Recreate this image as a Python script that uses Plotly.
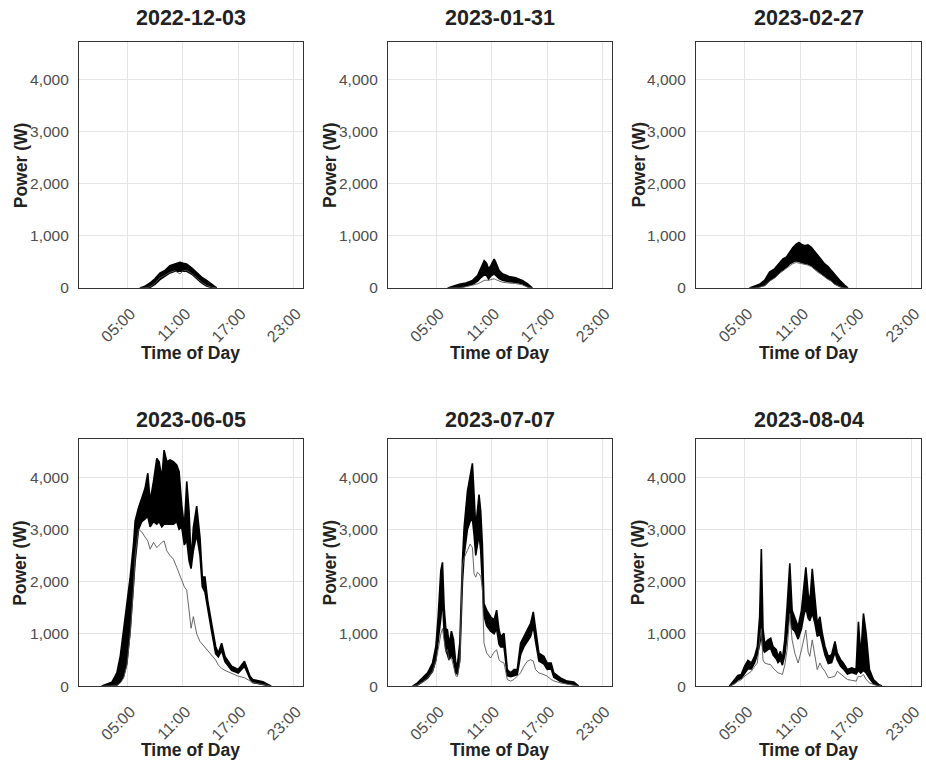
import plotly.graph_objects as go

# ---------------- data (hours of day, power in W) ----------------
titles = ["2022-12-03", "2023-01-31", "2023-02-27", "2023-06-05", "2023-07-07", "2023-08-04"]

t_1203 = [6.34, 6.88, 7.43, 7.97, 8.51, 9.06, 9.60, 10.14, 10.69, 11.05, 11.41, 11.96, 12.50, 13.04, 13.59, 14.13, 14.67]
hi_1203 = [0, 32, 95, 177, 285, 335, 430, 462, 494, 475, 462, 386, 304, 209, 146, 70, 0]
lo_1203 = [0, 0, 10, 70, 160, 230, 290, 320, 330, 320, 320, 270, 180, 100, 40, 10, 0]
out_1203 = [0, 0, 20, 90, 190, 250, 300, 330, 272, 330, 340, 280, 190, 110, 50, 15, 0]

t_0131 = [6.22, 6.76, 7.48, 8.20, 8.92, 9.46, 9.82, 10.18, 10.43, 10.65, 10.90, 11.26, 11.44, 11.80, 12.16, 12.88, 13.60, 14.32, 14.86, 15.40]
hi_0131 = [0, 32, 70, 95, 146, 240, 399, 525, 475, 367, 430, 557, 494, 335, 272, 222, 196, 146, 82, 0]
lo_0131 = [0, 0, 6, 32, 70, 130, 200, 250, 240, 170, 230, 270, 240, 180, 150, 120, 110, 80, 30, 0]
out_0131 = [0, 0, 5, 25, 55, 80, 110, 146, 150, 146, 160, 177, 160, 140, 110, 95, 85, 60, 20, 0]

t_0227 = [5.50, 6.04, 6.58, 7.12, 7.66, 8.20, 8.74, 9.10, 9.46, 9.82, 10.18, 10.54, 10.83, 11.08, 11.44, 11.80, 12.16, 12.52, 12.88, 13.24, 13.60, 13.96, 14.32, 14.68, 15.22, 15.76, 16.10]
hi_0227 = [0, 32, 70, 146, 304, 367, 475, 557, 589, 684, 779, 842, 874, 842, 810, 829, 779, 703, 620, 525, 462, 411, 335, 241, 146, 51, 0]
lo_0227 = [0, 0, 19, 51, 146, 209, 304, 350, 399, 462, 500, 525, 510, 494, 470, 462, 430, 367, 320, 285, 230, 180, 146, 82, 32, 0, 0]
out_0227 = [0, 0, 15, 45, 130, 190, 280, 330, 370, 430, 470, 490, 480, 470, 450, 440, 410, 350, 300, 260, 210, 165, 130, 70, 25, 0, 0]

t_0605 = [2.20, 3.30, 3.84, 4.21, 4.57, 4.93, 5.29, 5.65, 5.83, 6.19, 6.55, 6.91, 7.20, 7.45, 7.82, 8.18, 8.43, 8.72, 8.97, 9.26, 9.62, 9.98, 10.34, 10.60, 10.88, 11.17, 11.43, 11.68, 11.90, 12.15, 12.51, 12.87, 13.12, 13.41, 13.70, 14.13, 14.57, 14.86, 15.22, 15.58, 16.30, 17.02, 17.70, 18.30, 18.60, 19.70, 20.60]
hi_0605 = [0, 76, 253, 570, 1074, 1580, 2085, 2716, 3160, 3411, 3600, 3790, 4074, 3537, 3917, 4359, 4295, 3980, 4517, 4295, 4327, 4295, 4232, 4106, 3474, 3032, 3917, 3348, 2400, 3032, 3443, 2843, 2085, 2085, 1642, 1200, 758, 632, 821, 569, 379, 316, 475, 190, 127, 82, 13]
lo_0605 = [0, 0, 20, 80, 190, 440, 1074, 1958, 2400, 3000, 3150, 3200, 3250, 3050, 3150, 3100, 3150, 3050, 3100, 3100, 3100, 3100, 3150, 3000, 3050, 2700, 2800, 2400, 2250, 2600, 2900, 2500, 1900, 1800, 1500, 1050, 620, 560, 680, 470, 300, 250, 380, 140, 70, 30, 0]
out_0605 = [0, 0, 10, 60, 150, 400, 1000, 1900, 2500, 3000, 2950, 2850, 2780, 2620, 2750, 2650, 2700, 2750, 2780, 2590, 2500, 2430, 2274, 2150, 2000, 1900, 1835, 1400, 1108, 1330, 1000, 854, 800, 760, 680, 600, 500, 400, 340, 300, 250, 190, 160, 95, 70, 30, 0]

t_0707 = [2.40, 2.94, 3.48, 4.03, 4.57, 4.93, 5.18, 5.47, 5.65, 5.83, 6.01, 6.19, 6.37, 6.62, 6.84, 7.09, 7.27, 7.53, 7.82, 8.00, 8.36, 8.65, 8.90, 9.08, 9.26, 9.44, 9.62, 9.80, 9.98, 10.16, 10.45, 10.88, 11.25, 11.53, 11.79, 11.97, 12.33, 12.69, 13.05, 13.41, 13.77, 14.13, 14.49, 14.86, 15.22, 15.51, 15.76, 16.12, 16.66, 17.02, 17.45, 17.74, 18.47, 19.19, 19.91, 20.45]
hi_0707 = [0, 63, 158, 253, 442, 758, 1327, 2211, 2369, 1500, 1100, 1074, 800, 1050, 900, 450, 400, 821, 2400, 3032, 3727, 3980, 4264, 3664, 3032, 3348, 3664, 3348, 2716, 1580, 1453, 1327, 1263, 1453, 1074, 948, 1011, 316, 253, 316, 316, 821, 948, 1074, 1200, 1421, 1074, 632, 569, 442, 442, 253, 158, 95, 76, 13]
lo_0707 = [0, 20, 80, 150, 280, 500, 800, 1300, 1700, 1000, 700, 600, 500, 600, 500, 250, 230, 500, 2000, 2500, 3000, 3150, 3200, 2900, 2500, 2700, 2900, 2600, 2100, 1350, 1150, 1050, 1000, 1100, 800, 750, 750, 200, 180, 200, 220, 600, 750, 850, 950, 1150, 850, 480, 420, 320, 330, 170, 90, 50, 30, 0]
out_0707 = [0, 20, 80, 150, 280, 480, 700, 1000, 1100, 900, 650, 700, 500, 550, 400, 200, 180, 450, 2300, 2450, 2600, 2716, 2650, 2148, 2085, 2180, 2150, 2100, 1895, 821, 632, 537, 650, 695, 505, 470, 442, 126, 95, 126, 190, 253, 379, 474, 505, 480, 316, 253, 220, 190, 126, 100, 60, 40, 20, 0]

t_0804 = [3.34, 3.88, 4.24, 4.60, 4.96, 5.32, 5.69, 6.05, 6.34, 6.59, 6.77, 6.95, 7.13, 7.49, 7.78, 8.03, 8.39, 8.57, 8.83, 9.04, 9.30, 9.55, 9.84, 10.09, 10.38, 10.74, 11.10, 11.35, 11.57, 11.82, 12.00, 12.26, 12.55, 12.80, 13.09, 13.34, 13.63, 13.99, 14.35, 14.71, 14.96, 15.32, 15.61, 16.05, 16.52, 16.99, 17.24, 17.49, 17.78, 18.07, 18.43, 18.86, 19.40, 19.77]
hi_0804 = [0, 126, 202, 221, 379, 493, 442, 569, 758, 1327, 2622, 1100, 821, 884, 916, 758, 695, 569, 663, 505, 884, 1516, 2350, 1453, 1327, 1137, 1453, 1832, 2274, 1769, 1580, 2243, 1706, 1200, 1327, 1011, 758, 569, 600, 853, 632, 505, 442, 316, 347, 316, 1232, 569, 1390, 1011, 316, 126, 32, 0]
lo_0804 = [0, 60, 120, 150, 250, 330, 330, 450, 600, 800, 1000, 700, 650, 700, 720, 600, 520, 450, 500, 400, 600, 1000, 1500, 1100, 1050, 900, 1100, 1350, 1500, 1300, 1250, 1400, 1200, 950, 1000, 800, 600, 430, 450, 650, 500, 380, 330, 230, 260, 230, 300, 250, 300, 250, 150, 50, 10, 0]
out_0804 = [0, 40, 90, 120, 190, 240, 284, 379, 442, 884, 1100, 500, 442, 420, 410, 347, 290, 253, 240, 221, 400, 695, 1390, 884, 632, 442, 695, 900, 1074, 650, 569, 884, 569, 316, 442, 350, 284, 158, 170, 190, 284, 230, 190, 126, 110, 95, 190, 180, 221, 126, 63, 30, 10, 0]

panels = [
    (t_1203, hi_1203, lo_1203, out_1203),
    (t_0131, hi_0131, lo_0131, out_0131),
    (t_0227, hi_0227, lo_0227, out_0227),
    (t_0605, hi_0605, lo_0605, out_0605),
    (t_0707, hi_0707, lo_0707, out_0707),
    (t_0804, hi_0804, lo_0804, out_0804),
]

tick_hours = [5, 11, 17, 23]
tick_text = ["05:00", "11:00", "17:00", "23:00"]
y_ticks = [0, 1000, 2000, 3000, 4000]
y_text = ["0", "1,000", "2,000", "3,000", "4,000"]

# ---------------- layout geometry ----------------
W, H = 926, 770
col_px = [(79, 303), (388.3, 612.3), (696.7, 922.3)]
row_px = [(42, 291), (443.3, 693.3)]
title_y_px = [18, 424]
xtitle_y_px = [357, 758]
ytitle_x_px = [20.5, 330.5, 639.5]

FONT = "Liberation Sans, Arial, sans-serif"

fig = go.Figure()
layout = dict(
    width=W, height=H, margin=dict(l=0, r=0, t=0, b=0),
    paper_bgcolor="white", plot_bgcolor="white", showlegend=False,
    font=dict(family=FONT),
)
annotations = []

for i, (t, hi, lo, out) in enumerate(panels):
    r, c = divmod(i, 3)
    n = i + 1
    xa = "x" if n == 1 else f"x{n}"
    ya = "y" if n == 1 else f"y{n}"
    x0, x1 = col_px[c]
    ytop, ybot = row_px[r]
    common = dict(showgrid=True, gridcolor="#e4e4e4", gridwidth=1, zeroline=False,
                  showline=True, mirror=True, linecolor="#333333", linewidth=1,
                  ticks="")
    layout["xaxis" if n == 1 else f"xaxis{n}"] = dict(
        domain=[x0 / W, x1 / W], anchor=ya, range=[-0.28, 24.02],
        tickvals=tick_hours, ticktext=tick_text, tickangle=-45,
        tickfont=dict(family=FONT, size=16, color="#4d4d4d"),
        ticklabelstandoff=9, ticklabelshift=3, **common)
    layout["yaxis" if n == 1 else f"yaxis{n}"] = dict(
        domain=[1 - ybot / H, 1 - ytop / H], anchor=xa, range=[0, 4735],
        tickvals=y_ticks, ticktext=y_text, ticklabelstandoff=6,
        tickfont=dict(family=FONT, size=15.5, color="#4d4d4d"), **common)

    # band of overlapping string curves
    fig.add_trace(go.Scatter(
        x=list(t) + list(t)[::-1], y=list(hi) + list(lo)[::-1],
        fill="toself", fillcolor="black", mode="lines",
        line=dict(color="black", width=1.6), xaxis=xa, yaxis=ya, hoverinfo="skip"))
    # weaker curve
    fig.add_trace(go.Scatter(
        x=t, y=out, mode="lines", line=dict(color="#555555", width=0.9),
        xaxis=xa, yaxis=ya))

    xc = (x0 + x1) / 2 / W
    annotations.append(dict(text=f"<b>{titles[i]}</b>", x=xc, y=1 - title_y_px[r] / H,
                            xref="paper", yref="paper", showarrow=False,
                            xanchor="center", yanchor="middle",
                            font=dict(family=FONT, size=21.5, color="#222222")))
    annotations.append(dict(text="<b>Time of Day</b>", x=xc, y=1 - xtitle_y_px[r] / H,
                            xref="paper", yref="paper", showarrow=False,
                            xanchor="center", yanchor="middle",
                            font=dict(family=FONT, size=17.5, color="#222222")))
    annotations.append(dict(text="<b>Power (W)</b>", x=ytitle_x_px[c] / W,
                            y=1 - (ytop + ybot) / 2 / H, textangle=-90,
                            xref="paper", yref="paper", showarrow=False,
                            xanchor="center", yanchor="middle",
                            font=dict(family=FONT, size=17.5, color="#222222")))

layout["annotations"] = annotations
fig.update_layout(**layout)
fig.write_html("out.html")
